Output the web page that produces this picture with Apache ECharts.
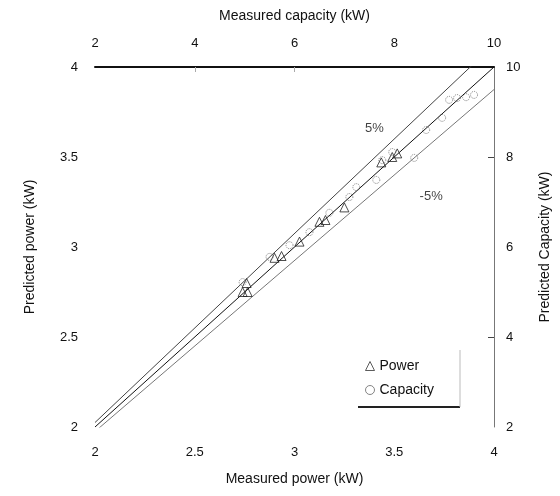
<!DOCTYPE html>
<html>
<head>
<meta charset="utf-8">
<script src="https://cdn.jsdelivr.net/npm/echarts@6/dist/echarts.min.js"></script>
<style>
  html, body { margin: 0; padding: 0; background: #fff; }
  #chart { width: 560px; height: 496px; }
</style>
</head>
<body>
<div id="chart"></div>
<script>
// Measured vs predicted power (kW) — bottom / left axes
const powerMeasured  = [2.74, 2.765, 2.76, 2.90, 2.935, 3.025, 3.125, 3.155, 3.25, 3.435, 3.49, 3.515];
const powerPredicted = [2.75, 2.75,  2.80, 2.94, 2.95,  3.03,  3.14,  3.15,  3.22, 3.47,  3.50, 3.52];

// Measured vs predicted capacity (kW) — top / right axes
const capMeasured  = [4.96, 5.50, 5.90, 6.30, 6.70, 7.10, 7.24, 7.64, 7.76, 7.96, 8.40, 8.64, 8.96, 9.10, 9.26, 9.44, 9.60];
const capPredicted = [5.22, 5.78, 6.04, 6.33, 6.76, 7.11, 7.33, 7.49, 7.93, 8.11, 7.98, 8.60, 8.87, 9.27, 9.31, 9.33, 9.38];

// Agreement lines: exact and ±5 %
const refRange = [2, 10];
const bandOffsets = [0.05, 0, -0.05];
const bandLabels = ['5%', '', '-5%'];
const bandLabelAt = [[7.6, 8.64], null, [8.74, 7.13]];

const powerTicks = [2, 2.5, 3, 3.5, 4];
const capTicks = [2, 4, 6, 8, 10];

const font = 'Liberation Sans, Arial, sans-serif';
const textStyle = { fontFamily: font, fontSize: 13, color: '#111' };
const nameStyle = { fontFamily: font, fontSize: 14, color: '#111' };

const pairs = (xs, ys) => xs.map((x, i) => [x, ys[i]]);

const bandColors = ['#444', '#111', '#777'];
const bandSeries = bandOffsets.map((k, i) => ({
  type: 'line',
  xAxisIndex: 1,
  yAxisIndex: 1,
  data: refRange.map(x => [x, x * (1 + k)]),
  symbol: 'none',
  silent: true,
  clip: true,
  lineStyle: { color: bandColors[i], width: 1 },
  z: 1
}));

const labelSeries = bandLabels.map((t, i) => t ? ({
  type: 'scatter',
  xAxisIndex: 1,
  yAxisIndex: 1,
  data: [bandLabelAt[i]],
  symbolSize: 0,
  silent: true,
  label: { show: true, formatter: t, position: 'inside', fontFamily: font, fontSize: 13, color: '#111' }
}) : null).filter(Boolean);

const chart = echarts.init(document.getElementById('chart'), null, { renderer: 'canvas' });
chart.setOption({
  animation: false,
  backgroundColor: '#fff',
  grid: { left: 95, right: 65, top: 67, bottom: 69 },
  legend: {
    orient: 'vertical',
    left: 360,
    top: 354,
    itemWidth: 9,
    itemHeight: 9,
    itemGap: 10,
    textStyle: { fontFamily: font, fontSize: 14, color: '#111' },
    data: [
      { name: 'Power', icon: 'triangle', itemStyle: { color: '#fff', borderColor: '#333', borderWidth: 1 } },
      { name: 'Capacity', icon: 'circle', itemStyle: { color: '#fff', borderColor: '#666', borderWidth: 1 } }
    ]
  },
  graphic: [
    { type: 'line', shape: { x1: 358, y1: 407, x2: 460, y2: 407 }, style: { stroke: '#222', lineWidth: 2 } },
    { type: 'line', shape: { x1: 460, y1: 350, x2: 460, y2: 407 }, style: { stroke: '#bbb', lineWidth: 1 } }
  ],
  xAxis: [
    {
      type: 'value', position: 'bottom', min: 2, max: 4, interval: 0.5,
      name: 'Measured power (kW)', nameLocation: 'middle', nameGap: 45, nameTextStyle: nameStyle,
      axisLine: { show: false }, axisTick: { show: false }, splitLine: { show: false },
      axisLabel: Object.assign({ margin: 19, customValues: powerTicks }, textStyle)
    },
    {
      type: 'value', position: 'top', min: 2, max: 10, interval: 2,
      name: 'Measured capacity (kW)', nameLocation: 'middle', nameGap: 44, nameTextStyle: nameStyle,
      axisLine: { show: true, onZero: false, lineStyle: { color: '#111', width: 2 } },
      axisTick: { show: true, inside: true, length: 5, customValues: [4, 6], lineStyle: { color: '#aaa' } },
      splitLine: { show: false },
      axisLabel: Object.assign({ margin: 17, customValues: capTicks }, textStyle)
    }
  ],
  yAxis: [
    {
      type: 'value', position: 'left', min: 2, max: 4, interval: 0.5,
      name: 'Predicted power (kW)', nameLocation: 'middle', nameGap: 58, nameTextStyle: nameStyle,
      axisLine: { show: false }, axisTick: { show: false }, splitLine: { show: false },
      axisLabel: Object.assign({ margin: 17, customValues: powerTicks }, textStyle)
    },
    {
      type: 'value', position: 'right', min: 2, max: 10, interval: 2,
      name: 'Predicted Capacity (kW)', nameLocation: 'middle', nameGap: 44, nameTextStyle: nameStyle,
      axisLine: { show: true, onZero: false, lineStyle: { color: '#777', width: 1 } },
      axisTick: { show: true, inside: true, length: 6, customValues: [4, 8], lineStyle: { color: '#444' } },
      splitLine: { show: false },
      axisLabel: Object.assign({ margin: 12, customValues: capTicks }, textStyle)
    }
  ],
  series: [
    ...bandSeries,
    ...labelSeries,
    {
      name: 'Power', type: 'scatter', xAxisIndex: 0, yAxisIndex: 0,
      data: pairs(powerMeasured, powerPredicted),
      symbol: 'triangle', symbolSize: 9,
      itemStyle: { color: 'rgba(255,255,255,0)', borderColor: '#222', borderWidth: 1 },
      z: 3
    },
    {
      name: 'Capacity', type: 'scatter', xAxisIndex: 1, yAxisIndex: 1,
      data: pairs(capMeasured, capPredicted),
      symbol: 'circle', symbolSize: 7,
      itemStyle: { color: 'rgba(255,255,255,0)', borderColor: '#666', borderWidth: 1, borderType: 'dotted' },
      z: 3
    }
  ]
});
</script>
</body>
</html>
